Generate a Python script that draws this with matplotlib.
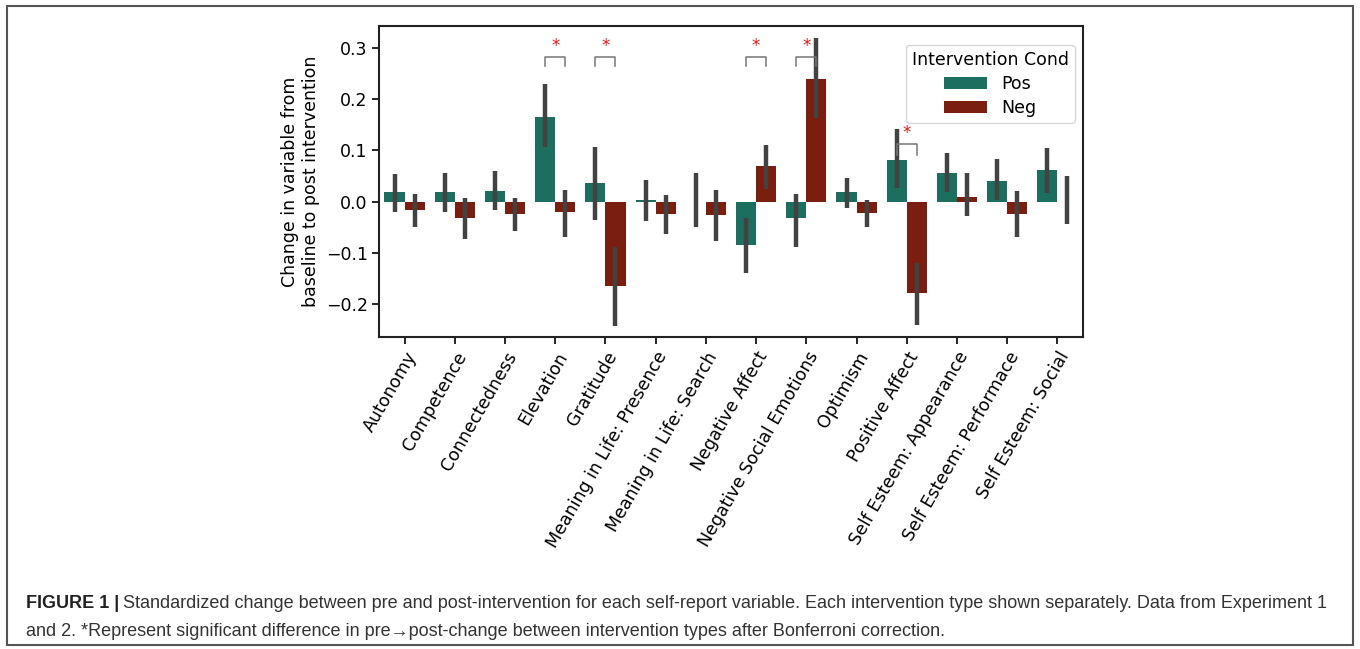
import numpy as np
import matplotlib.pyplot as plt
from matplotlib.patches import Rectangle

categories = ['Autonomy', 'Competence', 'Connectedness', 'Elevation', 'Gratitude',
              'Meaning in Life: Presence', 'Meaning in Life: Search', 'Negative Affect',
              'Negative Social Emotions', 'Optimism', 'Positive Affect',
              'Self Esteem: Appearance', 'Self Esteem: Performace', 'Self Esteem: Social']

pos_mean = [0.018, 0.018, 0.021, 0.165, 0.036, 0.003, 0.000, -0.085, -0.032, 0.018, 0.081, 0.056, 0.041, 0.061]
pos_lo = [-0.020, -0.020, -0.017, 0.107, -0.035, -0.037, -0.050, -0.139, -0.088, -0.012, 0.026, 0.018, 0.003, 0.016]
pos_hi = [0.053, 0.056, 0.059, 0.229, 0.107, 0.043, 0.055, -0.031, 0.015, 0.046, 0.142, 0.094, 0.083, 0.104]

neg_mean = [-0.016, -0.031, -0.024, -0.021, -0.164, -0.024, -0.027, 0.069, 0.239, -0.022, -0.179, 0.010, -0.024, -0.001]
neg_lo = [-0.050, -0.073, -0.057, -0.070, -0.242, -0.063, -0.076, 0.024, 0.164, -0.050, -0.240, -0.029, -0.070, -0.044]
neg_hi = [0.015, 0.007, 0.007, 0.023, -0.089, 0.012, 0.023, 0.111, 0.319, 0.003, -0.119, 0.056, 0.020, 0.051]

# significance brackets: category index, bottom, top of bracket
sig_idx = [3, 4, 7, 8, 10]
sig_low = [0.264, 0.264, 0.264, 0.264, 0.092]
sig_high = [0.283, 0.283, 0.283, 0.283, 0.113]

pos_color = '#1c6e5e'
neg_color = '#7a1e10'
err_color = '#424242'

fig = plt.figure(figsize=(13.6, 6.49), dpi=100)
ax = fig.add_axes([0.279, 0.481, 0.517, 0.479])

x = np.arange(len(categories))
w = 0.4
ax.bar(x - w / 2, pos_mean, width=w, color=pos_color, label='Pos')
ax.bar(x + w / 2, neg_mean, width=w, color=neg_color, label='Neg')
ax.vlines(x - w / 2, pos_lo, pos_hi, color=err_color, lw=3.2)
ax.vlines(x + w / 2, neg_lo, neg_hi, color=err_color, lw=3.2)

for i, lo, hi in zip(sig_idx, sig_low, sig_high):
    ax.plot([i - w / 2, i - w / 2, i + w / 2, i + w / 2], [lo, hi, hi, lo],
            color='#777777', lw=1.1)
    ax.text(i, hi + 0.004, '*', color='#ee1111', ha='center', va='bottom', fontsize=12, zorder=6)

ax.set_xlim(-0.5, 13.5)
ax.set_ylim(-0.264, 0.343)
ax.set_yticks([-0.2, -0.1, 0.0, 0.1, 0.2, 0.3])
ax.set_xticks(x)
ax.set_xticklabels(categories, rotation=60, ha='right', rotation_mode='anchor', fontsize=12.5)
ax.tick_params(axis='y', labelsize=12.5)
ax.tick_params(length=5, width=1.2)
for sp in ax.spines.values():
    sp.set_linewidth(1.5)
    sp.set_color('#222222')
ax.set_ylabel('Change in variable from\nbaseline to post intervention', fontsize=12.5)

leg = ax.legend(title='Intervention Cond', loc='upper right', fontsize=12.5, title_fontsize=12.5,
                handlelength=2.5, labelspacing=0.35, borderpad=0.35,
                bbox_to_anchor=(0.989, 0.94), borderaxespad=0)
leg.set_zorder(5)

# outer frame
fig.add_artist(Rectangle((7 / 1360, 4 / 649), 1346 / 1360, 639 / 649, transform=fig.transFigure,
                         fill=False, edgecolor='#555555', lw=1.5))

# caption
cap_font = 'Liberation Sans'
t1 = fig.text(26 / 1360, 1 - 604 / 649, 'FIGURE 1 |', fontsize=13, fontweight='bold',
              family=cap_font, color='#222222', va='center')
fig.canvas.draw()
bb = t1.get_window_extent(fig.canvas.get_renderer())
fig.text(bb.x1 / 1360 + 4 / 1360, 1 - 604 / 649,
         'Standardized change between pre and post-intervention for each self-report variable. '
         'Each intervention type shown separately. Data from Experiment 1',
         fontsize=13, family=cap_font, color='#333333', va='center')
fig.text(26 / 1360, 1 - 631 / 649,
         'and 2. *Represent significant difference in pre\u2192post-change between intervention types '
         'after Bonferroni correction.',
         fontsize=13, family=cap_font, color='#333333', va='center')

fig.savefig('out.png', dpi=100)
